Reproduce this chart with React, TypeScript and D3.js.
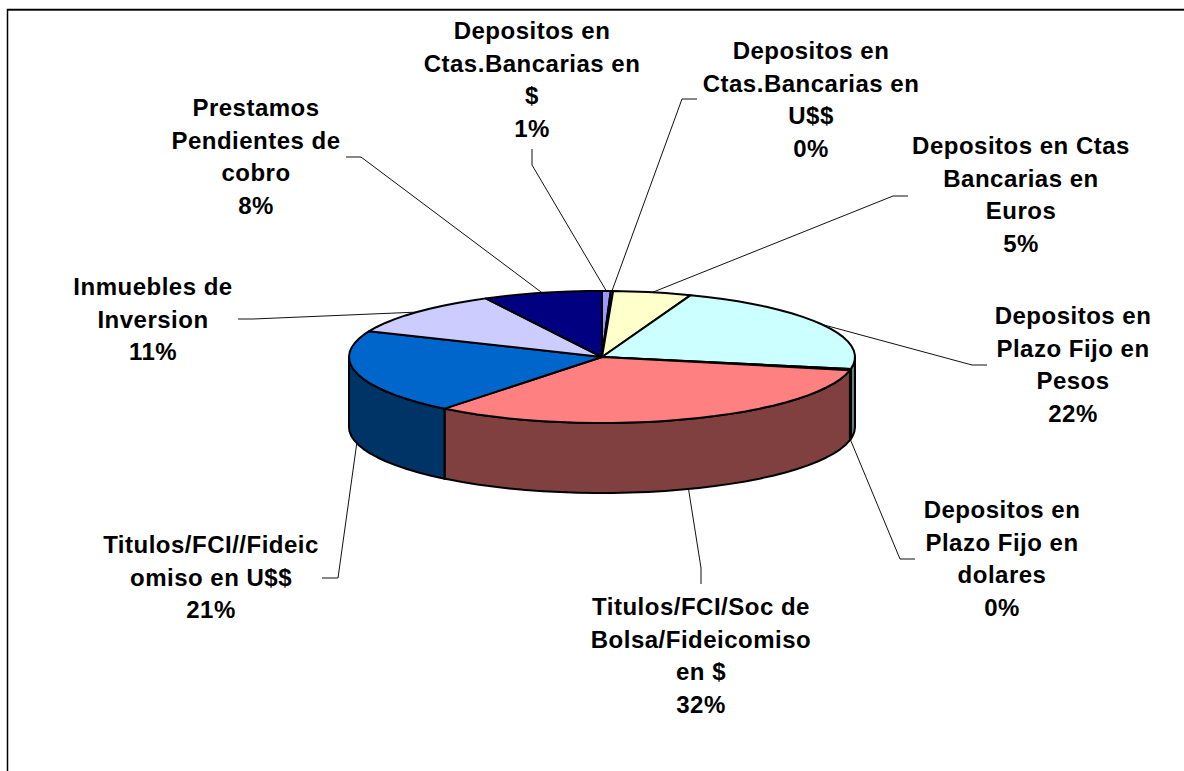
import React from 'react';
import * as d3 from 'd3';

const width = 1184;
const height = 771;

const categories = [
  'Depositos en Ctas.Bancarias en $',
  'Depositos en Ctas.Bancarias en U$$',
  'Depositos en Ctas Bancarias en Euros',
  'Depositos en Plazo Fijo en Pesos',
  'Depositos en Plazo Fijo en dolares',
  'Titulos/FCI/Soc de Bolsa/Fideicomiso en $',
  'Titulos/FCI//Fideicomiso en U$$',
  'Inmuebles de Inversion',
  'Prestamos Pendientes de cobro',
];
const values = [0.55, 0.15, 5.0, 22.2, 0.3, 32.49, 20.71, 11.0, 7.6];
const labelLines = [
  ['Depositos en', 'Ctas.Bancarias en', '$'],
  ['Depositos en', 'Ctas.Bancarias en', 'U$$'],
  ['Depositos en Ctas', 'Bancarias en', 'Euros'],
  ['Depositos en', 'Plazo Fijo en', 'Pesos'],
  ['Depositos en', 'Plazo Fijo en', 'dolares'],
  ['Titulos/FCI/Soc de', 'Bolsa/Fideicomiso', 'en $'],
  ['Titulos/FCI//Fideic', 'omiso en U$$'],
  ['Inmuebles de', 'Inversion'],
  ['Prestamos', 'Pendientes de', 'cobro'],
];
const topColors = ['#9999FF', '#993366', '#FFFFCC', '#CCFFFF', '#660066', '#FF8080', '#0066CC', '#CCCCFF', '#000080'];

// label block centre + first baseline, then the elbow of the leader
const labelPos = [
  { x: 532, y: 39, elbow: [[532, 149], [532, 165]] },
  { x: 811, y: 59, elbow: [[697, 99], [682, 99]] },
  { x: 1021, y: 154, elbow: [[908, 196], [893, 196]] },
  { x: 1073, y: 324, elbow: [[987, 365], [972, 365]] },
  { x: 1002, y: 518, elbow: [[915, 559], [900, 559]] },
  { x: 701, y: 615, elbow: [[701, 584], [701, 568]] },
  { x: 211, y: 553, elbow: [[322, 578], [338, 578]] },
  { x: 153, y: 295, elbow: [[238, 319], [253, 319]] },
  { x: 256, y: 116, elbow: [[346, 157], [361, 157]] },
];

const cx = 602;
const cy = 357;
const rx = 253;
const ry = 66;
const depth = 70;
const lineGap = 32.7;
const step = Math.PI / 45;

const pt = (a: number, dy = 0): [number, number] => [cx + rx * Math.sin(a), cy - ry * Math.cos(a) + dy];

const arcAngles = (a0: number, a1: number) => {
  const r = d3.range(a0, a1, step);
  r.push(a1);
  return r;
};

const line = d3.line();
const darker = (c: string) => {
  const q = d3.rgb(c);
  return d3.rgb(q.r / 2, q.g / 2, q.b / 2).formatHex();
};

const App = () => {
  const slices = d3.pie<number>().sort(null).value((d) => d)(values);
  const pct = d3.format('.0%');
  const total = d3.sum(values);

  const walls = slices.map((s, i) => {
    const a0 = Math.max(s.startAngle, Math.PI / 2);
    const a1 = Math.min(s.endAngle, (Math.PI * 3) / 2);
    if (a1 <= a0) return null;
    const angs = arcAngles(a0, a1);
    const pts = [...angs.map((a) => pt(a)), ...angs.slice().reverse().map((a) => pt(a, depth))];
    return <path key={i} d={line(pts) + 'Z'} fill={darker(topColors[i])} stroke="#000" strokeWidth={2} strokeLinejoin="round" />;
  });

  const tops = slices.map((s, i) => {
    const pts: [number, number][] = [[cx, cy], ...arcAngles(s.startAngle, s.endAngle).map((a) => pt(a))];
    return <path key={i} d={line(pts) + 'Z'} fill={topColors[i]} stroke="#000" strokeWidth={2} strokeLinejoin="round" />;
  });

  const leaders = slices.map((s, i) => {
    const mid = (s.startAngle + s.endAngle) / 2;
    const front = Math.cos(mid) < 0;
    const anchor = pt(mid, front ? depth : 0);
    return <path key={i} d={line([...labelPos[i].elbow, anchor] as [number, number][]) ?? ''} fill="none" stroke="#111" strokeWidth={1} />;
  });

  return (
    <svg
      width={width}
      height={height}
      style={{ position: 'absolute', left: 0, top: 0, display: 'block', background: '#fff' }}
      fontFamily="'Liberation Sans', Arial, sans-serif"
    >
      {/* frame: only top and left sides are inside the picture */}
      <path d={`M${width} 10.5H8`} fill="none" stroke="#666" strokeWidth={1} />
      <path d={`M7.5 ${height}V9.5H${width}`} fill="none" stroke="#000" strokeWidth={1.5} />
      {leaders}
      {walls}
      {tops}
      {slices.map((s, i) => {
        const lines = [...labelLines[i], pct(values[i] / total)];
        return (
          <text key={categories[i]} textAnchor="middle" fontWeight="bold" fontSize={24} letterSpacing={0.5} fill="#000">
            {lines.map((t, j) => (
              <tspan key={j} x={labelPos[i].x} y={labelPos[i].y + j * lineGap}>
                {t}
              </tspan>
            ))}
          </text>
        );
      })}
    </svg>
  );
};

export default App;
